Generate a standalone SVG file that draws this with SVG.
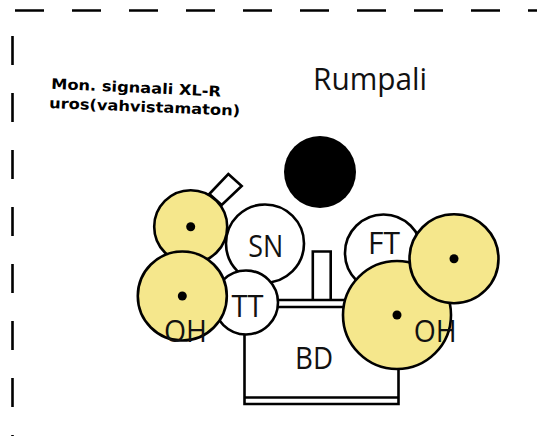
<svg xmlns="http://www.w3.org/2000/svg" width="537" height="436" viewBox="0 0 537 436">
<style>
.d{fill:#fff;stroke:#000;stroke-width:2.6}
.c{fill:#f5e78c;stroke:#000;stroke-width:2.6}
.l{fill:none;stroke:#000;stroke-width:2.6}
.b{fill:none;stroke:#000;stroke-width:2.6;stroke-dasharray:29 28}
.t{font-family:"Open Sans","Noto Sans",sans-serif;fill:#111;text-anchor:middle;font-size:31px}
.m{font-family:"DejaVu Sans",sans-serif;font-weight:700;font-size:14.500px;fill:#000}
</style>
<rect width="537" height="436" fill="#fff"/>
<g id="border">
<path class="b" d="M15 10.500H537"/>
<path class="b" d="M12.500 36V436"/>
</g>
<g id="titles">
<text x="370" y="90" class="t" textLength="114" lengthAdjust="spacingAndGlyphs">Rumpali</text>
<text class="m" transform="translate(51 88.800) rotate(2.600)" textLength="170" lengthAdjust="spacingAndGlyphs">Mon. signaali XL-R</text>
<text class="m" transform="translate(49 108) rotate(2.300)" textLength="191" lengthAdjust="spacingAndGlyphs">uros(vahvistamaton)</text>
</g>
<g id="mic"><circle cx="320" cy="172" r="36" fill="#000"/></g>
<g id="SN"><circle class="d" cx="265" cy="243.500" r="39"/><text x="265.700" y="256.700" class="t" textLength="35" lengthAdjust="spacingAndGlyphs">SN</text></g>
<g id="FT"><circle class="d" cx="383.500" cy="253" r="38.500"/><text x="384" y="253.500" class="t" textLength="32" lengthAdjust="spacingAndGlyphs">FT</text></g>
<g id="stick"><path class="d" d="M228.300 174 241.700 186 221.700 205 209.300 194Z"/></g>
<g id="BD">
<path class="l" d="M312.800 300V251.500H330.700V300"/>
<path class="d" d="M244.500 300H398.500V404H244.500Z"/>
<path class="l" d="M244.500 307H398.500M244.500 397.500H398.500"/>
<text x="314" y="368.500" class="t" textLength="38" lengthAdjust="spacingAndGlyphs">BD</text>
</g>
<g id="TT"><circle class="d" cx="246" cy="302.500" r="32"/><text x="247.500" y="316.500" class="t" textLength="32" lengthAdjust="spacingAndGlyphs">TT</text></g>
<g id="hihat"><circle class="c" cx="190.700" cy="226.700" r="36.500"/><circle cx="190.700" cy="226.700" r="4.500"/></g>
<g id="OH-left"><circle class="c" cx="182.300" cy="296" r="44.500"/><circle cx="182.300" cy="296" r="4.500"/><text x="185.500" y="341.700" class="t" textLength="43" lengthAdjust="spacingAndGlyphs">OH</text></g>
<g id="OH-right"><circle class="c" cx="397" cy="315" r="54"/><circle cx="397" cy="315" r="4.500"/><text x="435.300" y="341.700" class="t" textLength="43" lengthAdjust="spacingAndGlyphs">OH</text></g>
<g id="crash"><circle class="c" cx="454" cy="258.700" r="44.500"/><circle cx="454" cy="258.700" r="4.500"/></g>
</svg>
